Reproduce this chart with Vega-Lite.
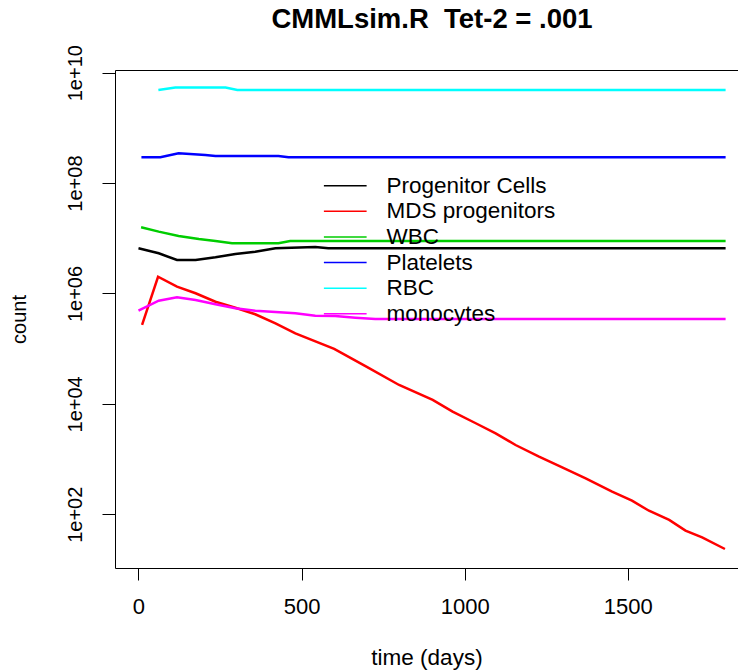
{
  "$schema": "https://vega.github.io/schema/vega-lite/v6.json",
  "width": 623,
  "height": 498,
  "autosize": "none",
  "padding": {"left": 115, "top": 70, "right": 0, "bottom": 103},
  "background": "white",
  "config": {"view": {"stroke": null}, "font": "Liberation Sans"},
  "title": {"text": "CMMLsim.R\u00a0 Tet-2 = .001", "fontSize": 27.5, "fontWeight": "bold", "font": "Liberation Sans", "anchor": "middle", "frame": "group", "dx": 5.5, "dy": 11, "baseline": "alphabetic", "offset": 0, "color": "black"},
  "data": {"values": [
    {"t": 0, "v": 6590000, "s": "Progenitor Cells"},
    {"t": 62, "v": 5350000, "s": "Progenitor Cells"},
    {"t": 118, "v": 4050000, "s": "Progenitor Cells"},
    {"t": 175, "v": 4050000, "s": "Progenitor Cells"},
    {"t": 236, "v": 4530000, "s": "Progenitor Cells"},
    {"t": 297, "v": 5200000, "s": "Progenitor Cells"},
    {"t": 358, "v": 5710000, "s": "Progenitor Cells"},
    {"t": 420, "v": 6590000, "s": "Progenitor Cells"},
    {"t": 542, "v": 6950000, "s": "Progenitor Cells"},
    {"t": 582, "v": 6590000, "s": "Progenitor Cells"},
    {"t": 1000, "v": 6590000, "s": "Progenitor Cells"},
    {"t": 1400, "v": 6590000, "s": "Progenitor Cells"},
    {"t": 1800, "v": 6590000, "s": "Progenitor Cells"},

    {"t": 11, "v": 269000, "s": "MDS progenitors"},
    {"t": 60, "v": 2010000, "s": "MDS progenitors"},
    {"t": 118, "v": 1330000, "s": "MDS progenitors"},
    {"t": 175, "v": 1010000, "s": "MDS progenitors"},
    {"t": 236, "v": 710000, "s": "MDS progenitors"},
    {"t": 297, "v": 553000, "s": "MDS progenitors"},
    {"t": 358, "v": 420000, "s": "MDS progenitors"},
    {"t": 420, "v": 288000, "s": "MDS progenitors"},
    {"t": 481, "v": 190000, "s": "MDS progenitors"},
    {"t": 600, "v": 98900, "s": "MDS progenitors"},
    {"t": 700, "v": 46700, "s": "MDS progenitors"},
    {"t": 799, "v": 22000, "s": "MDS progenitors"},
    {"t": 902, "v": 11800, "s": "MDS progenitors"},
    {"t": 963, "v": 7230, "s": "MDS progenitors"},
    {"t": 1034, "v": 4460, "s": "MDS progenitors"},
    {"t": 1095, "v": 2930, "s": "MDS progenitors"},
    {"t": 1156, "v": 1800, "s": "MDS progenitors"},
    {"t": 1228, "v": 1110, "s": "MDS progenitors"},
    {"t": 1299, "v": 710, "s": "MDS progenitors"},
    {"t": 1371, "v": 449, "s": "MDS progenitors"},
    {"t": 1452, "v": 257, "s": "MDS progenitors"},
    {"t": 1513, "v": 177, "s": "MDS progenitors"},
    {"t": 1565, "v": 116, "s": "MDS progenitors"},
    {"t": 1627, "v": 78.9, "s": "MDS progenitors"},
    {"t": 1677, "v": 50.5, "s": "MDS progenitors"},
    {"t": 1728, "v": 38.3, "s": "MDS progenitors"},
    {"t": 1798, "v": 23.5, "s": "MDS progenitors"},

    {"t": 8, "v": 15800000, "s": "WBC"},
    {"t": 62, "v": 13200000, "s": "WBC"},
    {"t": 123, "v": 11000000, "s": "WBC"},
    {"t": 185, "v": 9700000, "s": "WBC"},
    {"t": 236, "v": 8930000, "s": "WBC"},
    {"t": 287, "v": 8130000, "s": "WBC"},
    {"t": 429, "v": 8130000, "s": "WBC"},
    {"t": 465, "v": 8930000, "s": "WBC"},
    {"t": 1000, "v": 8930000, "s": "WBC"},
    {"t": 1400, "v": 8930000, "s": "WBC"},
    {"t": 1800, "v": 8930000, "s": "WBC"},

    {"t": 9, "v": 293000000, "s": "Platelets"},
    {"t": 67, "v": 293000000, "s": "Platelets"},
    {"t": 123, "v": 347000000, "s": "Platelets"},
    {"t": 205, "v": 323000000, "s": "Platelets"},
    {"t": 236, "v": 310000000, "s": "Platelets"},
    {"t": 429, "v": 310000000, "s": "Platelets"},
    {"t": 460, "v": 293000000, "s": "Platelets"},
    {"t": 1000, "v": 293000000, "s": "Platelets"},
    {"t": 1400, "v": 293000000, "s": "Platelets"},
    {"t": 1800, "v": 293000000, "s": "Platelets"},

    {"t": 61, "v": 4860000000, "s": "RBC"},
    {"t": 113, "v": 5370000000, "s": "RBC"},
    {"t": 267, "v": 5370000000, "s": "RBC"},
    {"t": 303, "v": 4860000000, "s": "RBC"},
    {"t": 1000, "v": 4860000000, "s": "RBC"},
    {"t": 1400, "v": 4860000000, "s": "RBC"},
    {"t": 1800, "v": 4860000000, "s": "RBC"},

    {"t": 0, "v": 488000, "s": "monocytes"},
    {"t": 62, "v": 741000, "s": "monocytes"},
    {"t": 118, "v": 853000, "s": "monocytes"},
    {"t": 175, "v": 762000, "s": "monocytes"},
    {"t": 236, "v": 637000, "s": "monocytes"},
    {"t": 297, "v": 540000, "s": "monocytes"},
    {"t": 358, "v": 488000, "s": "monocytes"},
    {"t": 420, "v": 462000, "s": "monocytes"},
    {"t": 481, "v": 438000, "s": "monocytes"},
    {"t": 542, "v": 396000, "s": "monocytes"},
    {"t": 603, "v": 392000, "s": "monocytes"},
    {"t": 665, "v": 365000, "s": "monocytes"},
    {"t": 726, "v": 345000, "s": "monocytes"},
    {"t": 1000, "v": 345000, "s": "monocytes"},
    {"t": 1400, "v": 345000, "s": "monocytes"},
    {"t": 1800, "v": 345000, "s": "monocytes"}
  ]},
  "layer": [
    {
      "mark": {"type": "line", "strokeWidth": 2.5},
      "encoding": {
        "x": {"field": "t", "type": "quantitative",
          "scale": {"domain": [-72, 1838], "nice": false, "zero": false},
          "axis": {"values": [0, 500, 1000, 1500], "format": "d", "grid": false, "tickSize": 12, "tickColor": "black", "domainColor": "black",
            "labelFontSize": 22, "labelColor": "black", "labelPadding": 16, "labelFlush": false, "labelOverlap": false,
            "title": "time (days)", "titleFontSize": 22.5, "titleFontWeight": "normal", "titleColor": "black", "titlePadding": 29}},
        "y": {"field": "v", "type": "quantitative",
          "scale": {"type": "log", "domain": [10.64, 11190000000], "nice": false},
          "axis": {"values": [100, 10000, 1000000, 100000000, 10000000000], "grid": false, "tickSize": 13, "tickColor": "black", "domainColor": "black",
            "labelExpr": "'1e+' + (datum.value < 1e9 ? '0' : '') + format(log(datum.value)/LN10, '.0f')",
            "labelAngle": -90, "labelAlign": "center", "labelBaseline": "alphabetic", "labelPadding": 21, "labelFontSize": 20, "labelColor": "black", "labelFlush": false, "labelOverlap": false,
            "title": "count", "titleFontSize": 20, "titleFontWeight": "normal", "titleColor": "black", "titlePadding": 36}},
        "color": {"field": "s", "type": "nominal",
          "scale": {"domain": ["Progenitor Cells", "MDS progenitors", "WBC", "Platelets", "RBC", "monocytes"],
                    "range": ["#000000", "#FF0000", "#00CD00", "#0000FF", "#00FFFF", "#FF00FF"]},
          "legend": {"orient": "none", "legendX": 219, "legendY": 104.5, "title": null,
            "symbolType": "M-2.67,0L2.67,0", "symbolSize": 256, "symbolStrokeWidth": 1.5,
            "labelFontSize": 22.5, "labelColor": "black", "labelOffset": 30, "labelLimit": 400, "rowPadding": 2.6, "labelFont": "Liberation Sans"}}
      }
    },
    {
      "mark": {"type": "point", "opacity": 0},
      "encoding": {
        "x": {"field": "t", "type": "quantitative",
          "axis": {"orient": "top", "labels": false, "ticks": false, "domain": true, "domainColor": "black", "title": null, "grid": false}},
        "y": {"field": "v", "type": "quantitative"}
      }
    }
  ],
  "resolve": {"axis": {"x": "independent"}}
}
